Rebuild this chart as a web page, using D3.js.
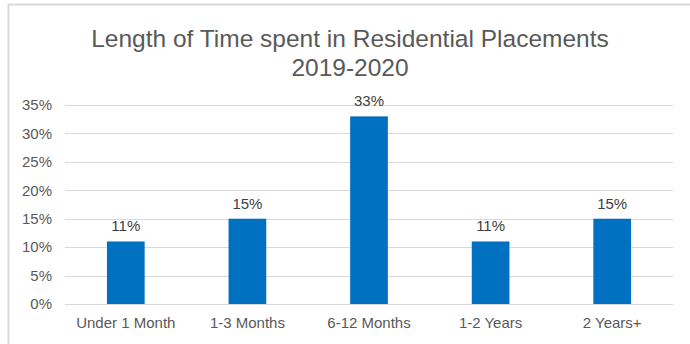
<!DOCTYPE html>
<html>
<head>
<meta charset="utf-8">
<script src="https://cdn.jsdelivr.net/npm/d3@7"></script>
<style>
  html, body { margin: 0; padding: 0; background: #fff; }
  svg { display: block; font-family: "Liberation Sans", Arial, sans-serif; }
</style>
</head>
<body>
<svg id="chart" width="690" height="344"></svg>
<script>
// Share of placements by length of stay, 2019-2020
const categories = ["Under 1 Month", "1-3 Months", "6-12 Months", "1-2 Years", "2 Years+"];
const values = [0.11, 0.15, 0.33, 0.11, 0.15];
const yTicks = [0, 0.05, 0.10, 0.15, 0.20, 0.25, 0.30, 0.35];
const titleLines = ["Length of Time spent in Residential Placements", "2019-2020"];

const svg = d3.select("#chart");
const W = 690, H = 344;
const margin = { left: 65, right: 17, top: 105, bottom: 40 };

const textColor = "#595959";
const gridColor = "#d9d9d9";
const barColor = "#0070c0";
const labelSize = "15px";

// chart frame (top and left edges)
svg.append("line").attr("x1", 8).attr("x2", W).attr("y1", 4.5).attr("y2", 4.5)
  .attr("stroke", "#d9d9d9").attr("stroke-width", 2);
svg.append("line").attr("x1", 8.5).attr("x2", 8.5).attr("y1", 4).attr("y2", H)
  .attr("stroke", "#d9d9d9").attr("stroke-width", 2);

const x = d3.scaleBand()
  .domain(categories)
  .range([margin.left, W - margin.right])
  .paddingInner(0.69)
  .paddingOuter(0.345);

const y = d3.scaleLinear()
  .domain([0, 0.35])
  .range([H - margin.bottom, margin.top]);

// gridlines
svg.append("g")
  .selectAll("line")
  .data(yTicks)
  .join("line")
  .attr("x1", margin.left)
  .attr("x2", W - margin.right)
  .attr("y1", d => Math.round(y(d)) + 0.5)
  .attr("y2", d => Math.round(y(d)) + 0.5)
  .attr("stroke", gridColor)
  .attr("stroke-width", 1);

// y axis labels
const yAxis = d3.axisLeft(y)
  .tickValues(yTicks)
  .tickFormat(d3.format(".0%"))
  .tickSize(0)
  .tickPadding(13);
const gy = svg.append("g")
  .attr("transform", `translate(${margin.left},0)`)
  .call(yAxis);
gy.select(".domain").remove();
gy.selectAll("text")
  .attr("fill", textColor)
  .style("font-size", labelSize)
  .style("font-family", "'Liberation Sans', Arial, sans-serif");

// x axis labels
const xAxis = d3.axisBottom(x).tickSize(0).tickPadding(13);
const gx = svg.append("g")
  .attr("transform", `translate(0,${H - margin.bottom})`)
  .call(xAxis);
gx.select(".domain").remove();
gx.selectAll("text")
  .attr("fill", textColor)
  .style("font-size", labelSize)
  .style("font-family", "'Liberation Sans', Arial, sans-serif");

// bars
svg.append("g")
  .selectAll("rect")
  .data(values)
  .join("rect")
  .attr("x", (d, i) => x(categories[i]))
  .attr("width", x.bandwidth())
  .attr("y", d => y(d))
  .attr("height", d => y(0) - y(d))
  .attr("fill", barColor);

// value labels
svg.append("g")
  .selectAll("text")
  .data(values)
  .join("text")
  .attr("x", (d, i) => x(categories[i]) + x.bandwidth() / 2)
  .attr("y", d => y(d) - 10)
  .attr("text-anchor", "middle")
  .attr("fill", "#404040")
  .style("font-size", labelSize)
  .text(d3.format(".0%"));

// title
svg.append("g")
  .selectAll("text")
  .data(titleLines)
  .join("text")
  .attr("x", 350)
  .attr("y", (d, i) => 47 + i * 29)
  .attr("text-anchor", "middle")
  .attr("fill", textColor)
  .style("font-size", "24.5px")
  .text(d => d);
</script>
</body>
</html>
